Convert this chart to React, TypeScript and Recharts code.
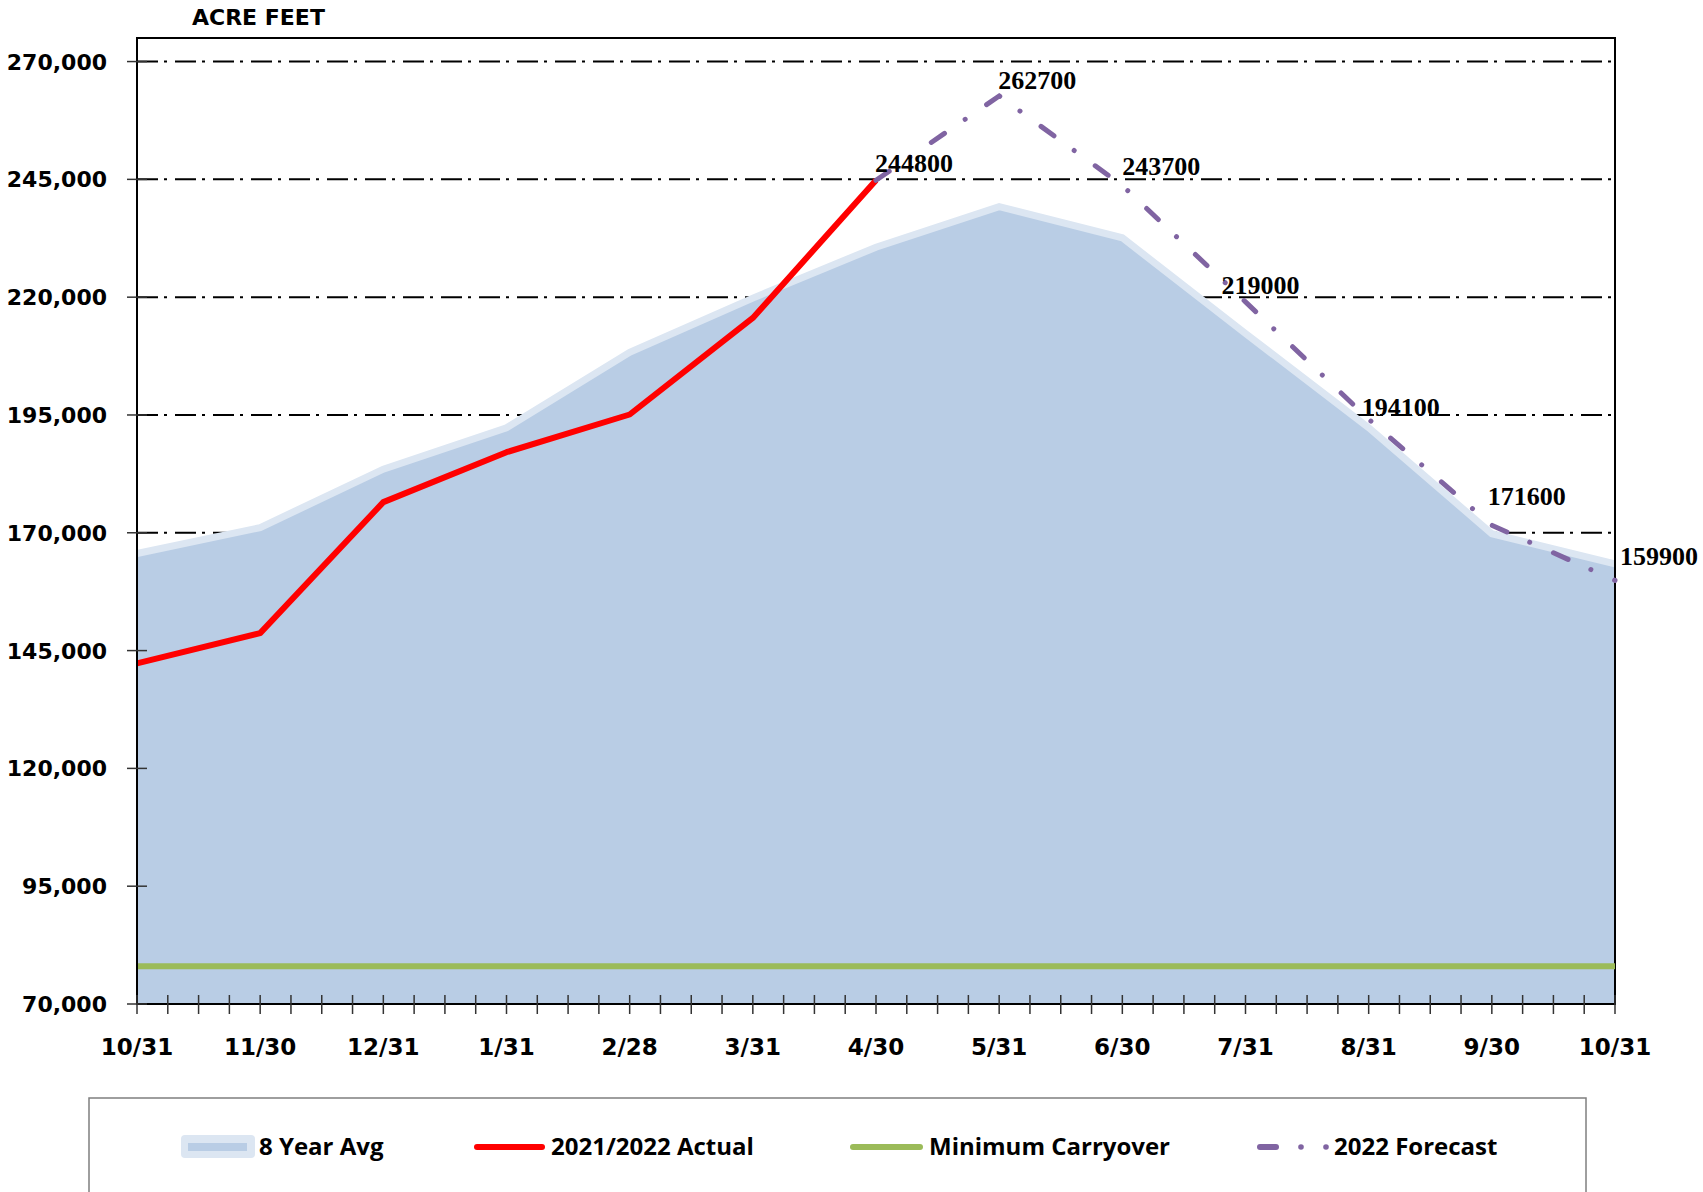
import {
  ComposedChart,
  Area,
  Line,
  XAxis,
  YAxis,
  CartesianGrid,
  ReferenceArea,
} from "recharts";

const months = ["10/31", "11/30", "12/31", "1/31", "2/28", "3/31", "4/30", "5/31", "6/30", "7/31", "8/31", "9/30", "10/31"];
const avg8Year = [165600, 171100, 183500, 192300, 208300, 219800, 230600, 239200, 232600, 212300, 192300, 169800, 163400];
const actual = [142300, 148700, 176500, 187100, 195100, 215600, 244800, null, null, null, null, null, null];
const minCarryover = [78000, 78000, 78000, 78000, 78000, 78000, 78000, 78000, 78000, 78000, 78000, 78000, 78000];
const forecast = [null, null, null, null, null, null, 244800, 262700, 243700, 219000, 194100, 171600, 159900];
const yTicks = [70000, 95000, 120000, 145000, 170000, 195000, 220000, 245000, 270000];

const data = months.map((month, i) => ({
  x: i,
  month,
  avg: avg8Year[i],
  actual: actual[i],
  min: minCarryover[i],
  forecast: forecast[i],
}));

// quarter-month minor ticks, labels only on month ends
const xTicks = Array.from({ length: 49 }, (_, i) => i / 4);

// per-point nudges for the forecast value labels (dx, dy from the point)
const labelOffsets: Record<number, [number, number]> = {
  6: [-1, -8],
  7: [-1, -7],
  8: [0, -10],
  9: [-24, -8],
  10: [-7, -3],
  11: [-4, -20],
  12: [5, -15],
};

const axisFont = "'DejaVu Sans', sans-serif";
const legendFont = "'Open Sans', sans-serif";

const XTick = (props: any) => {
  const { x, y, payload } = props;
  const v = payload.value;
  const isMonth = Number.isInteger(v);
  return (
    <g>
      <line x1={x} x2={x} y1={y - 9} y2={y + 10} stroke="#333" strokeWidth={1.5} />
      {isMonth && (
        <text x={x} y={y + 51} textAnchor="middle" fontFamily={axisFont} fontWeight="bold" fontSize={23} fill="#000">
          {months[v]}
        </text>
      )}
    </g>
  );
};

const YTick = (props: any) => {
  const { x, y, payload } = props;
  return (
    <g>
      <line x1={x - 10} x2={x + 10} y1={y} y2={y} stroke="#333" strokeWidth={1.5} />
      <text x={x - 30} y={y + 8} textAnchor="end" fontFamily={axisFont} fontWeight="bold" fontSize={22} fill="#000">
        {payload.value.toLocaleString("en-US")}
      </text>
    </g>
  );
};

const ForecastLabel = (props: any) => {
  const { x, y, value, index } = props;
  if (value == null || x == null || y == null) return null;
  const [dx, dy] = labelOffsets[index] || [0, -8];
  return (
    <text x={x + dx} y={y + dy} fontFamily="'Liberation Serif', serif" fontWeight="bold" fontSize={26} fill="#000">
      {value}
    </text>
  );
};

export default function App() {
  return (
    <div style={{ position: "absolute", left: 0, top: 0, width: 1703, height: 1192, background: "#fff" }}>
      <ComposedChart width={1703} height={1192} data={data} margin={{ top: 38, right: 88, bottom: 0, left: 0 }}>
        <CartesianGrid
          vertical={false}
          stroke="#000"
          strokeWidth={2}
          strokeDasharray="21 6 3 8"
        />
        <XAxis
          dataKey="x"
          type="number"
          domain={[0, 12]}
          ticks={xTicks}
          interval={0}
          height={188}
          tickSize={0}
          tickMargin={0}
          tickLine={false}
          axisLine={{ stroke: "#000", strokeWidth: 2 }}
          tick={<XTick />}
        />
        <YAxis
          type="number"
          domain={[70000, 275000]}
          ticks={yTicks}
          interval={0}
          width={137}
          tickSize={0}
          tickMargin={0}
          tickLine={false}
          axisLine={{ stroke: "#000", strokeWidth: 2 }}
          tick={<YTick />}
        />
        <Area
          type="linear"
          dataKey="avg"
          fill="#B9CDE5"
          fillOpacity={1}
          stroke="#DCE6F2"
          strokeWidth={7}
          isAnimationActive={false}
          dot={false}
          activeDot={false}
        />
        <Line
          type="linear"
          dataKey="min"
          stroke="#9BBB59"
          strokeWidth={6}
          dot={false}
          activeDot={false}
          isAnimationActive={false}
        />
        <Line
          type="linear"
          dataKey="actual"
          stroke="#FF0000"
          strokeWidth={6}
          strokeLinejoin="round"
          dot={false}
          activeDot={false}
          isAnimationActive={false}
        />
        <Line
          type="linear"
          dataKey="forecast"
          stroke="#8064A2"
          strokeWidth={5}
          strokeLinecap="round"
          strokeDasharray="16 25 0.01 26"
          dot={false}
          activeDot={false}
          isAnimationActive={false}
          label={<ForecastLabel />}
        />
        <ReferenceArea x1={0} x2={12} y1={70000} y2={275000} fill="none" stroke="#000" strokeWidth={2} ifOverflow="visible" />
      </ComposedChart>

      <svg width={1703} height={1192} style={{ position: "absolute", left: 0, top: 0, pointerEvents: "none" }}>
        <text x={192} y={25} fontFamily={axisFont} fontWeight="bold" fontSize={22} fill="#000">
          ACRE FEET
        </text>
        <rect x={89} y={1098} width={1497} height={200} fill="none" stroke="#7f7f7f" strokeWidth={1.5} />
        <rect x={181} y={1135} width={74} height={23} rx={4} fill="#DCE6F2" />
        <rect x={188} y={1143} width={59} height={8} fill="#B9CDE5" />
        <text x={259} y={1155} fontFamily={legendFont} fontWeight="bold" fontSize={24} fill="#000">8 Year Avg</text>
        <line x1={477} x2={542} y1={1147} y2={1147} stroke="#FF0000" strokeWidth={6} strokeLinecap="round" />
        <text x={551} y={1155} fontFamily={legendFont} fontWeight="bold" fontSize={24} fill="#000">2021/2022 Actual</text>
        <line x1={853} x2={920} y1={1147} y2={1147} stroke="#9BBB59" strokeWidth={6} strokeLinecap="round" />
        <text x={929} y={1155} fontFamily={legendFont} fontWeight="bold" fontSize={24} fill="#000">Minimum Carryover</text>
        <line x1={1260} x2={1276} y1={1147} y2={1147} stroke="#8064A2" strokeWidth={6} strokeLinecap="round" />
        <circle cx={1301} cy={1147} r={2.8} fill="#8064A2" />
        <circle cx={1326} cy={1147} r={2.8} fill="#8064A2" />
        <text x={1334} y={1155} fontFamily={legendFont} fontWeight="bold" fontSize={24} fill="#000">2022 Forecast</text>
      </svg>
    </div>
  );
}
